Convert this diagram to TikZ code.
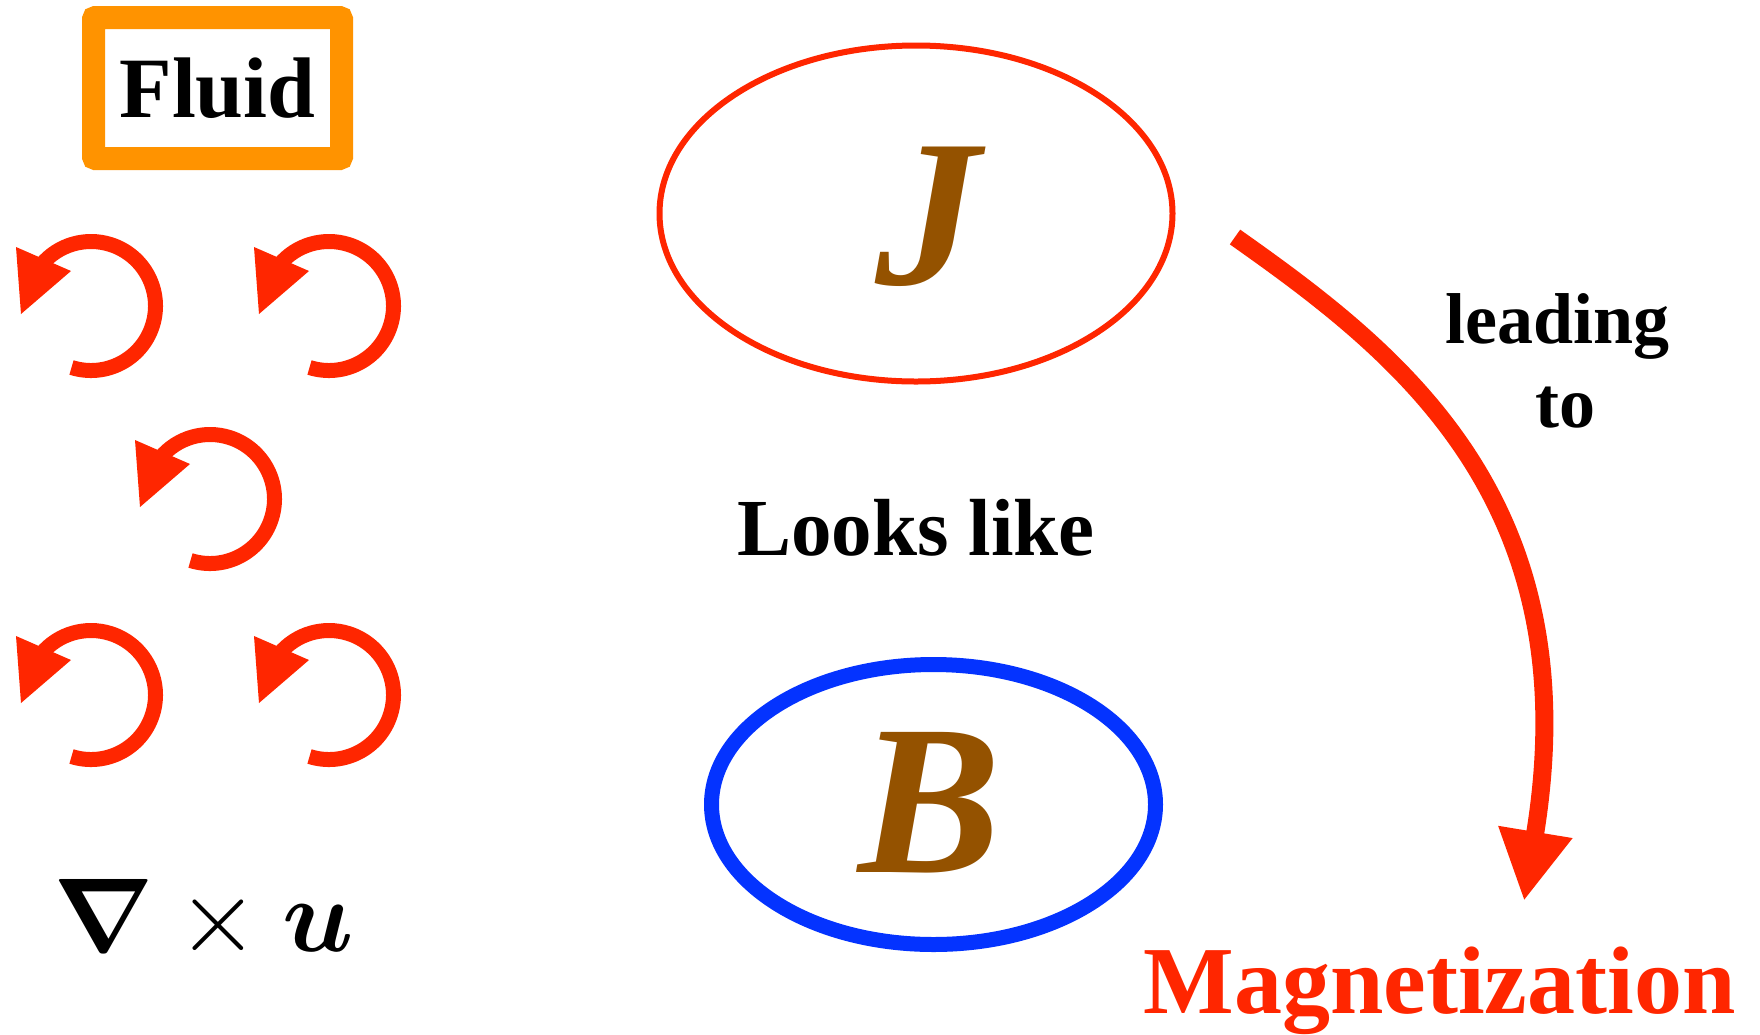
\RequirePackage{fix-cm}
\documentclass[tikz,border=0pt]{standalone}
\usepackage{bm}
\usepackage{fontspec}
\newfontfamily\tms{Liberation Serif}
\usetikzlibrary{arrows.meta,shapes.geometric}
\definecolor{kred}{HTML}{FF2600}
\definecolor{korange}{HTML}{FF9300}
\definecolor{kblue}{HTML}{0433FF}
\definecolor{kbrown}{HTML}{945200}
\begin{document}
\begin{tikzpicture}[x=1pt,y=-1pt,
  txt/.style={inner sep=0pt, anchor=base},
  vortex/.pic={
    \draw[kred, line width=15pt] (107.6:64.5) arc[start angle=107.6,end angle=-140,radius=64.5];
    \fill[kred] (-75,-59) -- (-70,8) -- (-20,-35) -- cycle;
  }]
\useasboundingbox (0,0) rectangle (1760,1034);
\fill[white] (0,0) rectangle (1760,1034);

% Fluid box
\node[draw=korange, line width=23pt, rounded corners=2pt, minimum width=248pt, minimum height=141pt, inner sep=0pt] (fluidbox) at (217.5,88) {};
\node[txt, font=\tms\bfseries\fontsize{86}{86}\selectfont] (fluid) at (217.5,117) {Fluid};

% vortices
\pic (v1) at (91,306) {vortex};
\pic (v2) at (329,306) {vortex};
\pic (v3) at (210,499) {vortex};
\pic (v4) at (91,695) {vortex};
\pic (v5) at (329,695) {vortex};

% curl
\node[txt, font=\fontsize{105}{105}\selectfont] (curl) at (204,951) {$\bm{\nabla}\times\bm{u}$};

% ellipses
\node[ellipse, draw=kred, line width=6pt, minimum width=513pt, minimum height=336pt, inner sep=0pt] (Jell) at (916,213.5) {};
\node[ellipse, draw=kblue, line width=15pt, minimum width=444pt, minimum height=280pt, inner sep=0pt] (Bell) at (933.5,804.5) {};
\node[txt, text=kbrown, font=\tms\bfseries\itshape\fontsize{210}{210}\selectfont] (J) at (928,284) {J};
\node[txt, text=kbrown, font=\tms\bfseries\itshape\fontsize{214}{214}\selectfont] (B) at (930,872) {B};

\node[txt, font=\tms\bfseries\fontsize{81}{81}\selectfont] (looks) at (916,555) {Looks like};
\node[txt, font=\tms\bfseries\fontsize{72}{72}\selectfont] (lead) at (1557.5,343) {leading};
\node[txt, font=\tms\bfseries\fontsize{72}{72}\selectfont] (to) at (1565,427) {to};
\node[txt, text=kred, font=\tms\bfseries\fontsize{96}{96}\selectfont] (mag) at (1439.5,1013) {Magnetization};

% big arrow
\coordinate (aS) at (1235,237);
\coordinate (aE) at (1524,901);
\draw[kred, line width=18pt, -{Triangle[width=70pt,length=70pt]}] (aS) .. controls (1398,352) and (1590,500) .. (aE);
\end{tikzpicture}
\end{document}
